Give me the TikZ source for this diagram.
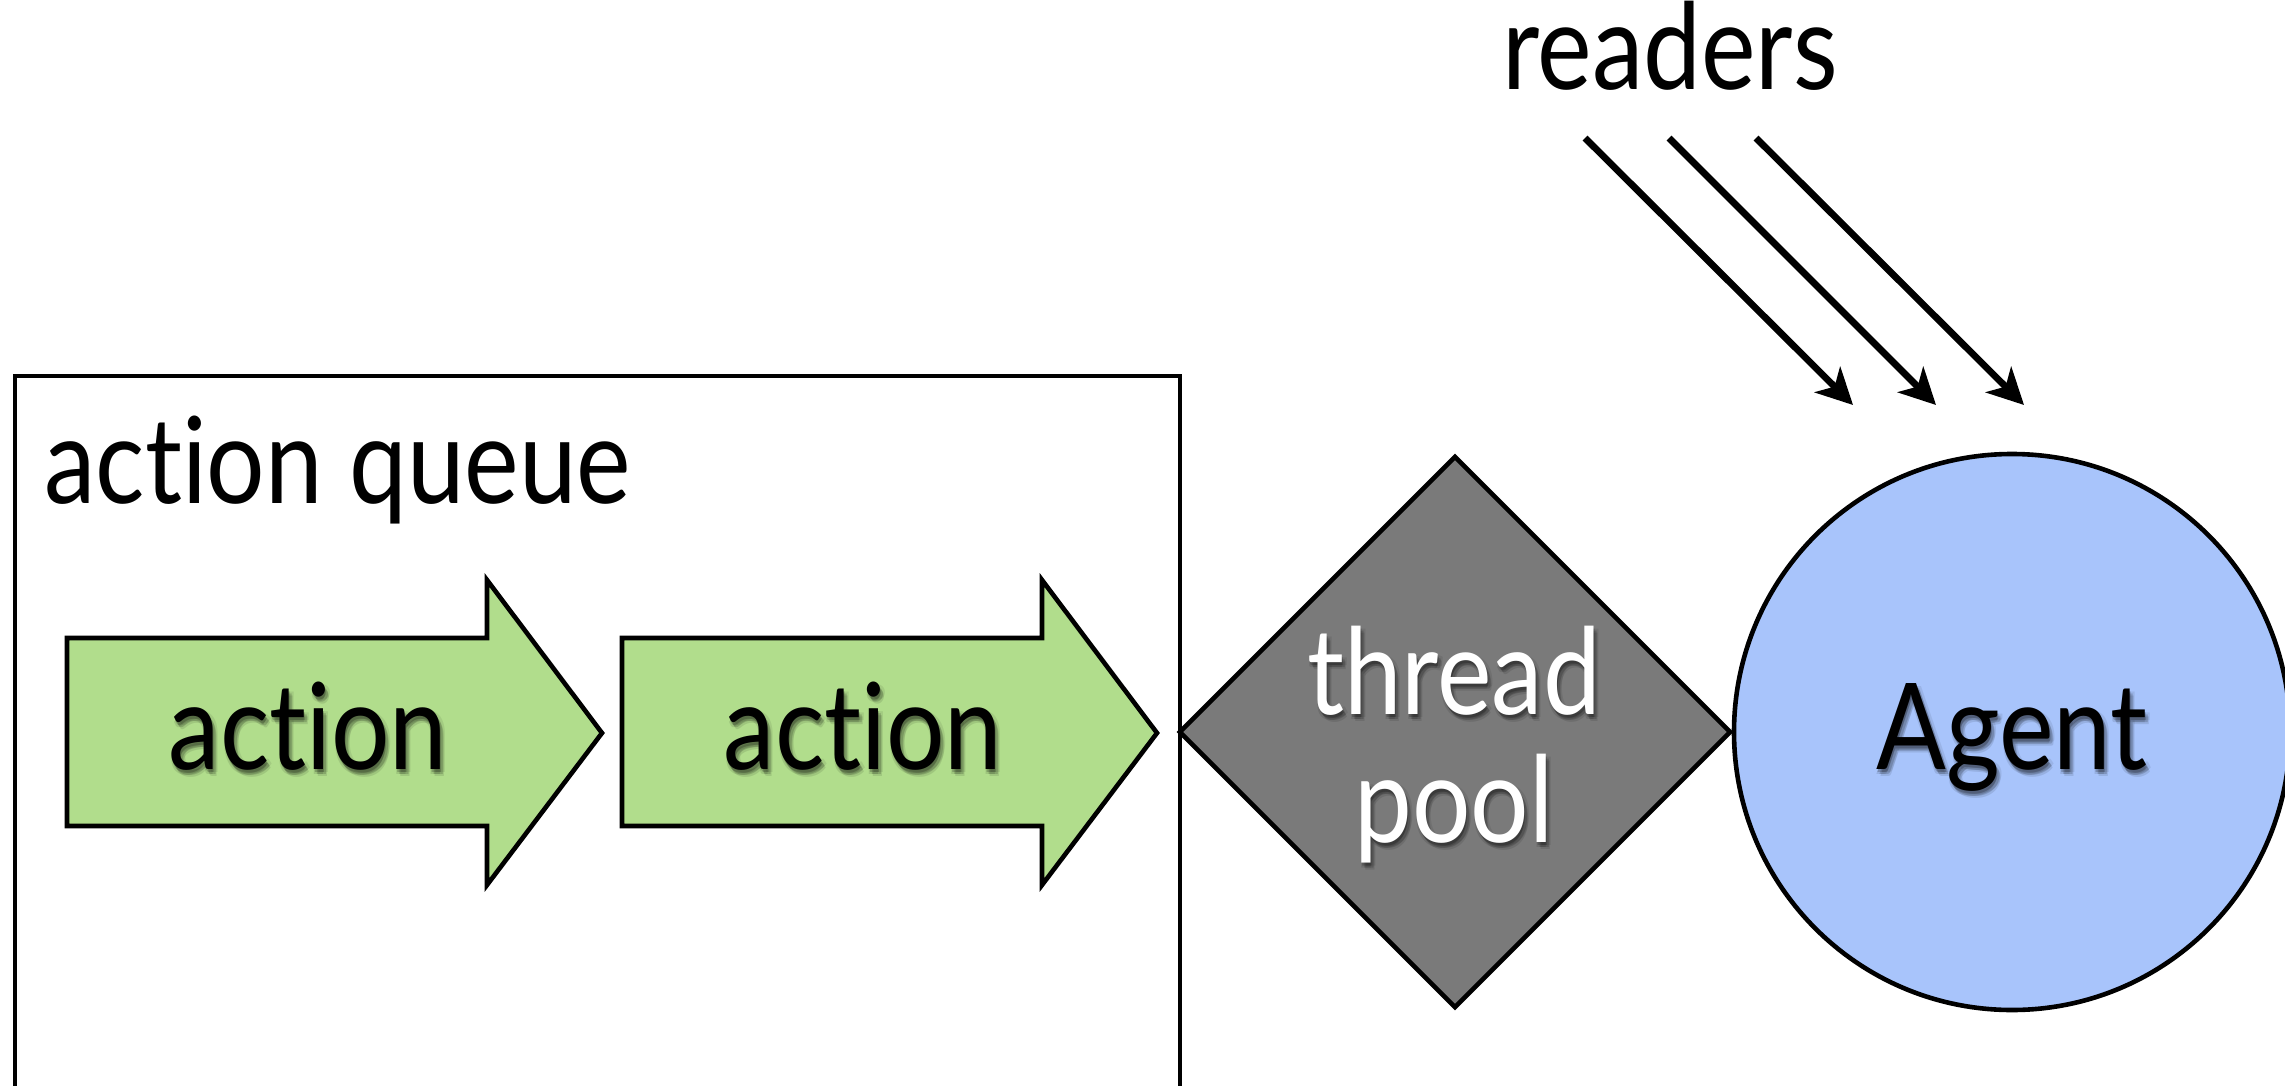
\documentclass[tikz,border=0pt]{standalone}
\usepackage{fontspec}
\setmainfont{Lato}[FakeStretch=0.86, Ligatures=NoCommon]
\usetikzlibrary{shapes.geometric,arrows.meta}
\definecolor{actgreen}{HTML}{B1DD8C}
\definecolor{agentblue}{HTML}{A8C4FB}
\definecolor{poolgray}{HTML}{7A7A7A}

% text with a soft drop shadow: name, x, y, text colour, text
\newcommand\shadowed[5]{%
  \foreach \dx/\dy/\op [count=\k] in {1/3/0.20, 3/5/0.16, 4/7/0.10, 0/5/0.10, 5/3/0.08}
    \node[lbl, text=black, text opacity=\op] (#1sh\k) at (#2+\dx, #3+\dy) {#5};
  \node[lbl, text=#4] (#1) at (#2,#3) {#5};}

\begin{document}
\begin{tikzpicture}[x=0.5pt,y=-0.5pt,
  lbl/.style={anchor=base, inner sep=0pt, font=\fontsize{60}{72}\selectfont},
  outline/.style={draw=black, line width=2.3pt, line join=miter},
  actarrow/.style={outline, fill=actgreen},
  reader/.style={line width=3.4pt, -{Stealth[length=18pt,width=18pt,inset=5pt]}}]
\useasboundingbox (0,0) rectangle (2285,1086);
\clip (0,0) rectangle (2285,1086);
\fill[white] (0,0) rectangle (2285,1086);

% the queue
\draw[outline] (15,376) rectangle (1180,1110);
\node[lbl, anchor=base west] (queue) at (44,503) {action queue};

% two queued actions
\draw[actarrow] (67,638) -- (487,638) -- (487,580) -- (602,733) -- (487,885) -- (487,826) -- (67,826) -- cycle;
\draw[actarrow] (622,638) -- (1042,638) -- (1042,580) -- (1157,733) -- (1042,885) -- (1042,826) -- (622,826) -- cycle;
\shadowed{act1}{308}{769}{black}{action}
\shadowed{act2}{863}{769}{black}{action}

% thread pool
\node[outline, diamond, aspect=1, fill=poolgray, inner sep=0pt,
      minimum width=276pt, minimum height=276pt] (pool) at (1455,732) {};
\shadowed{thread}{1454}{714}{white}{thread}
\shadowed{poolb}{1454}{842}{white}{pool}

% the agent
\node[outline, circle, fill=agentblue, inner sep=0pt, minimum size=278pt] (agent) at (2012,732) {};
\shadowed{agentt}{2012}{769}{black}{Agent}

% readers
\node[lbl] (readers) at (1670,90) {readers};
\coordinate (r1s) at (1585,138); \coordinate (r1e) at (1853,405);
\coordinate (r2s) at (1669,138); \coordinate (r2e) at (1936,405);
\coordinate (r3s) at (1756,138); \coordinate (r3e) at (2024,405);
\draw[reader] (r1s) -- (r1e);
\draw[reader] (r2s) -- (r2e);
\draw[reader] (r3s) -- (r3e);
\end{tikzpicture}
\end{document}
